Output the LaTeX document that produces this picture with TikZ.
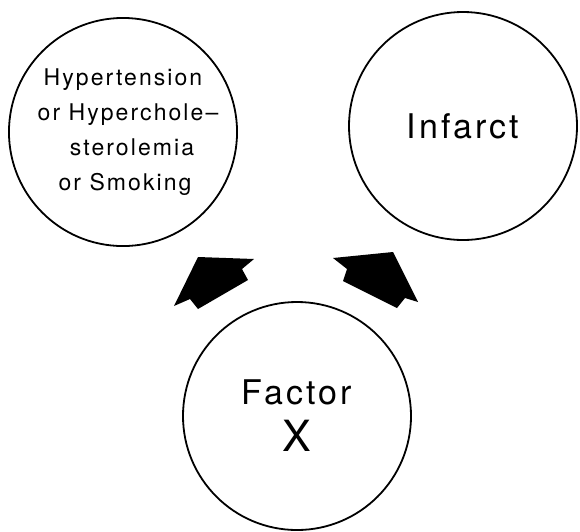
\documentclass[tikz,border=0pt]{standalone}
\usepackage{fontspec}
\setmainfont{TeX Gyre Heros}[LetterSpace=9]
\usepackage{tikz}
\usetikzlibrary{shapes}

\begin{document}
\begin{tikzpicture}[x=1pt,y=-1pt,line width=1.8pt]
  \tikzstyle{ring}=[circle,draw,inner sep=0pt,minimum size=228pt,align=center]
  \tikzstyle{blockarrow}=[fill=black,draw=none]
  \useasboundingbox (0,0) rectangle (580,531);
  \node(risk) at (123,132) [ring,font=\fontsize{23}{35}\selectfont]{Hypertension\\\hspace*{10pt}or Hyperchole–\\\hspace*{18pt}sterolemia\\\hspace*{4pt}or Smoking};
  \node(infarct) at (463,126) [ring,font=\fontsize{34}{40}\selectfont]{Infarct};
  \node(factor) at (297,416) [ring,font=\fontsize{34}{47}\selectfont]{Factor\\{\fontsize{43}{47}\selectfont X}};
  % fat arrows out of factor X
  \fill[blockarrow] (198,257)--(254,259)--(242,269)--(248,280)--(198,309)--(190,299)--(174,306)--cycle;
  \fill[blockarrow] (333,258)--(393,252)--(418,302)--(405,298)--(397,308)--(343,281)--(347,269)--cycle;
\end{tikzpicture}
\end{document}
